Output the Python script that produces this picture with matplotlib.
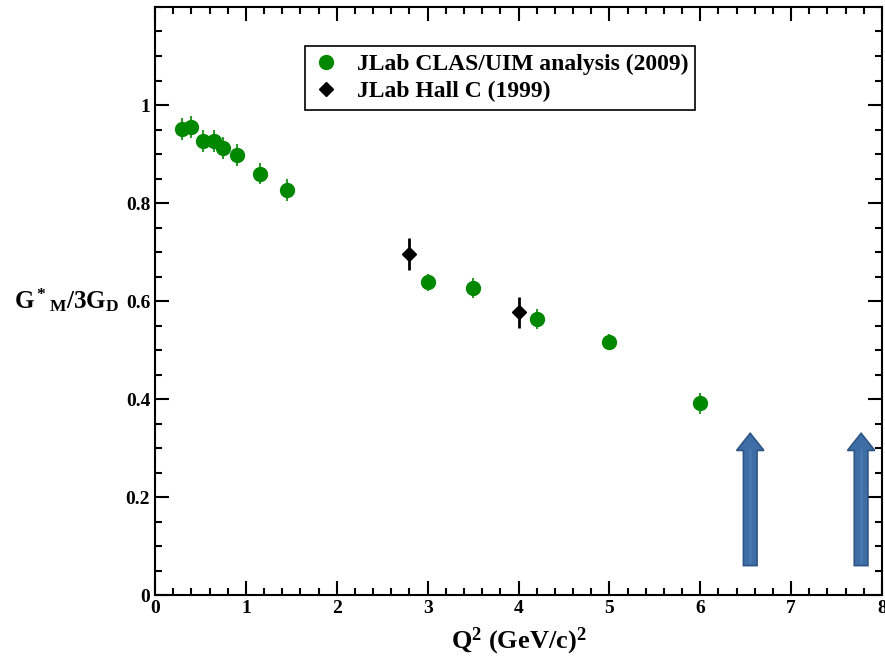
import numpy as np
import matplotlib.pyplot as plt
from matplotlib.ticker import MultipleLocator
from matplotlib.patches import FancyArrow
from matplotlib.lines import Line2D

plt.rcParams['font.family'] = ['Liberation Serif', 'DejaVu Serif']
plt.rcParams['font.weight'] = 'bold'
plt.rcParams['axes.labelweight'] = 'bold'
plt.rcParams['mathtext.fontset'] = 'custom'
plt.rcParams['mathtext.rm'] = 'Liberation Serif:bold'
plt.rcParams['mathtext.it'] = 'Liberation Serif:bold'
plt.rcParams['mathtext.bf'] = 'Liberation Serif:bold'

# CLAS/UIM 分析数据
clas_q2 = [0.3, 0.4, 0.525, 0.65, 0.75, 0.9, 1.15, 1.45, 3.0, 3.5, 4.2, 5.0, 6.0]
clas_g = [0.951, 0.955, 0.926, 0.926, 0.912, 0.898, 0.860, 0.827, 0.638, 0.626, 0.563, 0.516, 0.391]
clas_err = [0.022, 0.022, 0.022, 0.022, 0.022, 0.022, 0.022, 0.022, 0.018, 0.020, 0.020, 0.016, 0.022]

# Hall C 数据
hallc_q2 = [2.8, 4.0]
hallc_g = [0.696, 0.577]
hallc_err = [0.033, 0.032]

# 箭头位置
arrow_x = [6.55, 7.77]
arrow_y0 = 0.06
arrow_len = 0.27

fig = plt.figure(figsize=(8.85, 6.64), dpi=100)
ax = fig.add_axes([155 / 885, 1 - 595 / 664, (882 - 155) / 885, (595 - 7) / 664])

ax.errorbar(clas_q2, clas_g, yerr=clas_err, fmt='o', color='#008800', ms=10,
            ecolor='#2f9a2f', elinewidth=1.5, capsize=0, zorder=3)
ax.errorbar(hallc_q2, hallc_g, yerr=hallc_err, fmt='D', color='black', ms=7.5,
            elinewidth=2, capsize=0, zorder=3)

for x in arrow_x:
    ax.add_patch(FancyArrow(x, arrow_y0, 0, arrow_len, width=0.15, head_width=0.30,
                            head_length=0.035, length_includes_head=True,
                            facecolor='#3f6ea6', edgecolor='#2c5585', lw=1.2,
                            zorder=4, clip_on=False))
    ax.plot([x, x], [arrow_y0 + 0.005, arrow_y0 + arrow_len - 0.035], color='#4f80bd',
            lw=1.0, zorder=5)

ax.set_xlim(0, 8)
ax.set_ylim(0, 1.2)
ax.xaxis.set_minor_locator(MultipleLocator(0.2))
ax.yaxis.set_minor_locator(MultipleLocator(0.05))
ax.set_yticks([0, 0.2, 0.4, 0.6, 0.8, 1.0])
ax.set_yticklabels(['0', '0.2', '0.4', '0.6', '0.8', '1'])
ax.set_xticks(range(9))
ax.set_xticklabels([str(i) for i in range(9)])
ax.tick_params(which='both', direction='in', top=True, right=True, labelsize=14, width=1.5)
ax.tick_params(which='major', length=10)
ax.tick_params(which='minor', length=5)
for sp in ax.spines.values():
    sp.set_linewidth(1.5)

ax.set_xlabel(r'Q$^2$ (GeV/c)$^2$', fontsize=19, labelpad=6)
fig.text(0.075, 1 - 300 / 664, r'G$^*$$_{\rm M}$/3G$_{\rm D}$', fontsize=18,
         ha='center', va='center')

handles = [Line2D([], [], marker='o', color='#008800', ls='none', ms=10),
           Line2D([], [], marker='D', color='black', ls='none', ms=7)]
leg = ax.legend(handles, ['JLab CLAS/UIM analysis (2009)', 'JLab Hall C (1999)'],
                loc='upper left', bbox_to_anchor=(0.19, 0.953), fontsize=17,
                fancybox=False, edgecolor='black', framealpha=1,
                handletextpad=0.7, borderpad=0.3, labelspacing=0.25, handlelength=1.2)
leg.get_frame().set_linewidth(1.2)

fig.savefig('out.png', dpi=100)
